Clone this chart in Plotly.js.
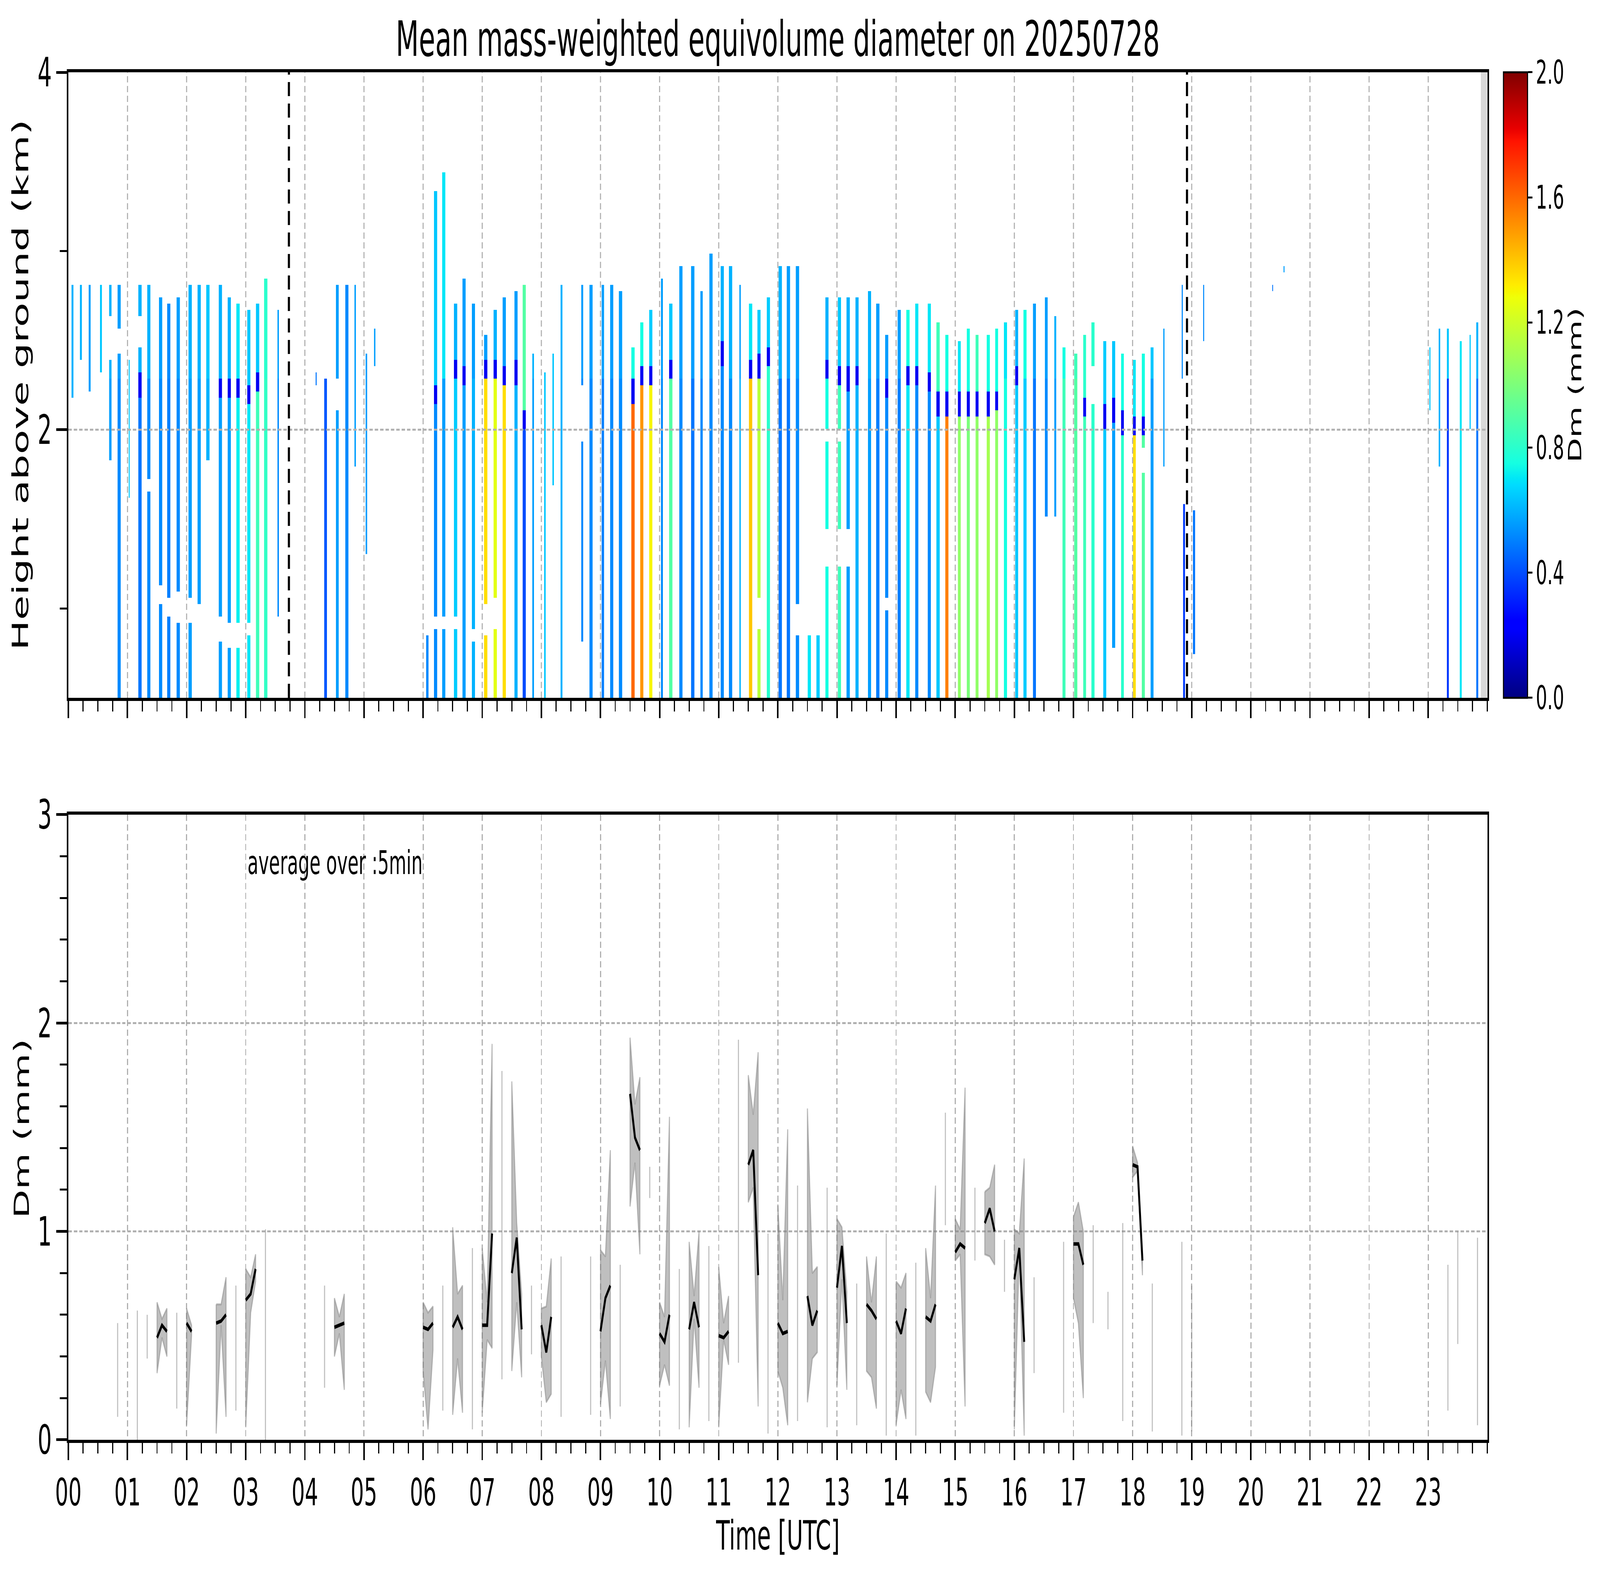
<!DOCTYPE html>
<html>
<head>
<meta charset="utf-8">
<script src="https://cdn.plot.ly/plotly-3.0.1.min.js"></script>
<style>
  html, body { margin: 0; padding: 0; background: #fff; overflow: hidden; }
  #chart { width: 7442px; height: 4031px; transform-origin: 0 0; }
</style>
</head>
<body>
<div id="chart"></div>
<script>
// Upper panel: one entry per radar profile (vertical stripe)
const stripeHour = [
  0.07, 0.21, 0.36, 0.55, 0.71, 0.86, 1.03, 1.21, 1.36, 1.56,
  1.70, 1.86, 2.06, 2.21, 2.36, 2.57, 2.72, 2.87, 3.05, 3.20,
  3.34, 3.55, 4.19, 4.35, 4.55, 4.71, 4.85, 5.04, 5.18, 6.07,
  6.21, 6.35, 6.55, 6.69, 6.85, 7.06, 7.22, 7.37, 7.57, 7.71,
  7.86, 8.06, 8.20, 8.34, 8.69, 8.84, 9.04, 9.19, 9.34, 9.55,
  9.70, 9.85, 10.04, 10.19, 10.36, 10.56, 10.71, 10.87, 11.06, 11.20,
  11.36, 11.54, 11.68, 11.84, 12.04, 12.18, 12.33, 12.53, 12.68, 12.83,
  13.04, 13.19, 13.34, 13.55, 13.69, 13.84, 14.05, 14.20, 14.35, 14.56,
  14.71, 14.86, 15.07, 15.22, 15.37, 15.56, 15.70, 15.85, 16.04, 16.18,
  16.34, 16.54, 16.69, 16.84, 17.04, 17.19, 17.33, 17.53, 17.68, 17.83,
  18.03, 18.18, 18.33, 18.53, 18.84, 18.87, 19.04, 19.20, 20.37, 20.56,
  23.03, 23.19, 23.33, 23.55, 23.71, 23.83
];
// profile duration in minutes
const stripeMinutes = [
  2.0, 2.0, 2.0, 2.0, 2.5, 3.3, 1.2, 3.3, 3.3, 3.3,
  3.3, 3.3, 3.3, 3.3, 3.3, 3.3, 3.3, 3.3, 3.3, 3.3,
  3.3, 1.5, 1.2, 3.0, 2.8, 3.3, 1.5, 1.5, 1.2, 2.5,
  3.3, 3.3, 3.3, 3.3, 3.3, 3.3, 3.3, 3.3, 3.3, 3.3,
  1.8, 1.5, 1.5, 1.8, 2.0, 3.3, 2.5, 3.3, 3.3, 3.3,
  3.3, 3.3, 2.0, 3.3, 3.3, 3.3, 2.5, 3.3, 3.3, 3.3,
  1.5, 3.3, 3.3, 3.3, 3.3, 3.3, 3.3, 3.3, 3.3, 3.3,
  3.3, 3.3, 3.3, 3.3, 3.3, 3.3, 3.3, 3.3, 3.3, 3.3,
  3.3, 3.3, 3.0, 3.0, 3.0, 3.0, 3.0, 3.0, 3.0, 3.0,
  3.0, 2.8, 2.0, 3.0, 3.0, 3.0, 3.0, 3.0, 3.0, 3.0,
  3.0, 3.0, 3.0, 1.2, 1.0, 2.0, 2.2, 1.2, 1.0, 1.0,
  1.0, 1.5, 2.0, 1.8, 1.2, 1.8
];
// echo top and lowest height (km)
const stripeTop = [
  2.82, 2.82, 2.82, 2.82, 2.82, 2.82, 2.39, 2.82, 2.82, 2.75,
  2.72, 2.75, 2.82, 2.82, 2.82, 2.82, 2.75, 2.72, 2.68, 2.72,
  2.86, 2.68, 2.32, 2.30, 2.82, 2.82, 2.82, 2.43, 2.58, 0.84,
  3.33, 3.44, 2.72, 2.86, 2.72, 2.54, 2.68, 2.75, 2.79, 2.82,
  2.43, 2.32, 2.43, 2.82, 2.82, 2.82, 2.82, 2.82, 2.79, 2.47,
  2.61, 2.68, 2.86, 2.72, 2.93, 2.93, 2.79, 2.97, 2.93, 2.90,
  2.82, 2.72, 2.68, 2.75, 2.90, 2.90, 2.90, 0.84, 0.84, 2.75,
  2.75, 2.75, 2.75, 2.79, 2.72, 2.54, 2.68, 2.68, 2.72, 2.72,
  2.61, 2.54, 2.50, 2.57, 2.54, 2.54, 2.57, 2.61, 2.68, 2.68,
  2.72, 2.75, 2.64, 2.47, 2.43, 2.54, 2.61, 2.50, 2.50, 2.43,
  2.39, 2.43, 2.47, 2.57, 2.82, 1.57, 1.56, 2.82, 2.82, 2.93,
  2.47, 2.58, 2.58, 2.50, 2.54, 2.60
];
const stripeBase = [
  2.18, 2.39, 2.20, 2.32, 1.83, 0.50, 1.61, 0.50, 0.50, 0.50,
  0.50, 0.50, 0.50, 1.03, 1.83, 0.50, 0.50, 0.50, 0.50, 0.50,
  0.50, 0.96, 2.24, 0.50, 0.50, 0.50, 1.78, 1.32, 2.35, 0.50,
  0.50, 0.50, 0.50, 0.50, 0.50, 0.50, 0.50, 0.50, 0.50, 0.50,
  0.50, 0.50, 1.68, 0.50, 0.80, 0.50, 0.50, 0.50, 0.50, 0.50,
  0.50, 0.50, 0.50, 0.50, 0.50, 0.50, 0.50, 0.50, 0.50, 0.50,
  0.50, 0.50, 0.50, 0.50, 0.50, 0.50, 0.50, 0.50, 0.50, 0.50,
  0.50, 0.50, 0.50, 0.50, 0.50, 0.50, 0.50, 0.50, 0.50, 0.50,
  0.50, 0.50, 0.50, 0.50, 0.50, 0.50, 0.50, 0.50, 0.50, 0.50,
  0.50, 1.53, 1.53, 0.50, 0.50, 0.50, 0.50, 0.50, 0.78, 0.50,
  0.50, 0.50, 0.50, 1.78, 2.29, 0.50, 0.74, 2.50, 2.76, 2.87,
  2.10, 1.78, 0.50, 0.50, 2.00, 0.50
];
// height of the dark melting-layer band (km), null where it is not seen
const stripeBand = [
  null, null, null, null, null, null, null, 2.25, null, null,
  null, null, null, null, null, 2.24, 2.24, 2.24, 2.20, 2.27,
  null, null, null, null, null, null, null, null, null, null,
  2.20, null, 2.33, 2.30, null, 2.33, 2.34, 2.30, 2.32, 2.05,
  null, null, null, null, null, null, null, null, null, 2.22,
  2.30, 2.30, null, 2.33, null, null, null, null, 2.42, null,
  null, 2.33, 2.35, 2.40, null, null, null, null, null, 2.33,
  2.30, 2.28, 2.30, null, null, 2.24, null, 2.30, 2.30, 2.26,
  2.14, 2.15, 2.15, 2.15, 2.15, 2.15, 2.17, null, 2.31, null,
  null, null, null, null, null, 2.12, null, 2.08, 2.11, 2.04,
  2.03, 2.02, null, null, null, null, null, null, null, null,
  null, null, null, null, null, null
];
// Dm above the band (snow) and below it (rain), mm
const stripeIceDm = [
  0.60, 0.60, 0.56, 0.64, 0.60, 0.56, 0.64, 0.60, 0.60, 0.56,
  0.52, 0.56, 0.60, 0.60, 0.64, 0.60, 0.60, 0.70, 0.64, 0.64,
  0.80, 0.56, 0.48, 0.56, 0.56, 0.52, 0.56, 0.56, 0.56, 0.52,
  0.64, 0.70, 0.60, 0.56, 0.56, 0.56, 0.60, 0.56, 0.56, 0.90,
  0.60, 0.64, 0.64, 0.60, 0.56, 0.56, 0.56, 0.56, 0.56, 0.75,
  0.75, 0.65, 0.56, 0.64, 0.56, 0.56, 0.56, 0.56, 0.60, 0.60,
  0.56, 0.70, 0.65, 0.65, 0.60, 0.56, 0.56, 0.70, 0.65, 0.60,
  0.64, 0.60, 0.60, 0.60, 0.56, 0.56, 0.56, 0.75, 0.70, 0.70,
  0.85, 0.75, 0.70, 0.75, 0.85, 0.75, 0.75, 0.70, 0.60, 0.75,
  0.56, 0.56, 0.60, 0.75, 0.85, 0.80, 0.80, 0.65, 0.64, 0.75,
  0.70, 0.75, 0.64, 0.56, 0.52, 0.42, 0.52, 0.52, 0.48, 0.56,
  0.64, 0.60, 0.64, 0.70, 0.64, 0.60
];
const stripeRainDm = [
  0.60, 0.60, 0.56, 0.64, 0.56, 0.52, 0.64, 0.48, 0.52, 0.52,
  0.50, 0.52, 0.56, 0.56, 0.60, 0.56, 0.56, 0.72, 0.70, 0.85,
  0.82, 0.52, 0.48, 0.42, 0.56, 0.52, 0.56, 0.56, 0.56, 0.52,
  0.52, 0.56, 0.65, 0.56, 0.60, 1.35, 1.25, 1.35, 0.60, 0.40,
  0.56, 0.64, 0.64, 0.60, 0.52, 0.52, 0.50, 0.52, 0.52, 1.60,
  1.50, 1.30, 0.52, 0.90, 0.52, 0.48, 0.52, 0.52, 0.52, 0.52,
  0.60, 1.40, 1.15, 0.80, 0.48, 0.48, 0.52, 0.70, 0.65, 0.75,
  0.85, 0.56, 0.60, 0.56, 0.50, 0.52, 0.50, 0.70, 0.52, 0.52,
  0.64, 1.55, 1.05, 1.00, 1.05, 1.10, 1.05, 0.75, 0.64, 0.65,
  0.48, 0.52, 0.56, 0.85, 0.90, 0.85, 0.80, 0.64, 0.56, 0.80,
  1.35, 0.90, 0.56, 0.56, 0.52, 0.36, 0.48, 0.52, 0.48, 0.56,
  0.64, 0.60, 0.36, 0.70, 0.64, 0.48
];
// height ranges [upper, lower] km with no data inside a profile
const stripeGaps = [
  [], [], [], [], [[2.64, 2.39]], [[2.58, 2.43]], [], [[2.64, 2.46]], [[1.74, 1.64]], [[1.13, 1.03]],
  [[1.06, 0.96]], [[1.10, 0.92]], [[1.06, 0.92]], [], [], [[0.96, 0.81]], [[0.92, 0.78]], [[0.92, 0.78]], [[0.92, 0.84]], [],
  [], [], [], [], [[2.29, 2.11]], [], [], [], [], [],
  [[0.96, 0.88]], [[0.96, 0.88]], [[0.96, 0.88]], [], [[0.88, 0.81]], [[1.03, 0.84]], [[1.06, 0.88]], [], [], [],
  [], [], [], [], [[2.25, 1.93]], [], [], [], [], [],
  [], [], [], [], [], [], [], [], [], [],
  [], [], [[1.06, 0.88]], [], [], [], [[1.03, 0.84]], [], [], [[2.00, 1.93], [1.43, 1.24]],
  [[2.00, 1.93], [1.43, 1.24]], [[1.43, 1.24]], [], [], [], [[1.06, 0.99]], [], [], [], [],
  [], [], [], [], [], [], [], [], [], [],
  [], [], [], [], [], [], [[2.36, 2.16]], [], [], [],
  [], [[1.89, 1.75]], [], [], [], [], [], [], [], [],
  [], [], [], [], [], []
];
const bandDm = 0.2;
const bandHalfDepth = 0.06;
const meltLevel = 2.3;
const gateDepth = 0.035;
const heightRange = [0.5, 4];

// Lower panel: 5-min averages of Dm (mm)
const avgTime = [
  '00:50', '01:10', '01:20', '01:30', '01:35', '01:40', '01:50', '02:00', '02:05', '02:30',
  '02:35', '02:40', '02:50', '03:00', '03:05', '03:10', '03:20', '04:20', '04:30', '04:35',
  '04:40', '06:00', '06:05', '06:10', '06:20', '06:30', '06:35', '06:40', '06:50', '07:00',
  '07:05', '07:10', '07:20', '07:30', '07:35', '07:40', '07:50', '08:00', '08:05', '08:10',
  '08:20', '08:50', '09:00', '09:05', '09:10', '09:20', '09:30', '09:35', '09:40', '09:50',
  '10:00', '10:05', '10:10', '10:20', '10:30', '10:35', '10:40', '10:50', '11:00', '11:05',
  '11:10', '11:20', '11:30', '11:35', '11:40', '11:50', '12:00', '12:05', '12:10', '12:20',
  '12:30', '12:35', '12:40', '12:50', '13:00', '13:05', '13:10', '13:20', '13:30', '13:35',
  '13:40', '13:50', '14:00', '14:05', '14:10', '14:20', '14:30', '14:35', '14:40', '14:50',
  '15:00', '15:05', '15:10', '15:20', '15:30', '15:35', '15:40', '15:50', '16:00', '16:05',
  '16:10', '16:20', '16:50', '17:00', '17:05', '17:10', '17:20', '17:35', '17:50', '18:00',
  '18:05', '18:10', '18:20', '18:50', '19:00', '23:20', '23:30', '23:50'
];
const avgDm = [
  0.34, 0.31, 0.49, 0.49, 0.55, 0.52, 0.38, 0.56, 0.52, 0.56,
  0.57, 0.60, 0.44, 0.67, 0.70, 0.82, 0.50, 0.49, 0.54, 0.55,
  0.56, 0.54, 0.53, 0.56, 0.44, 0.54, 0.59, 0.53, 0.49, 0.55,
  0.55, 0.99, 1.03, 0.80, 0.97, 0.53, 0.57, 0.55, 0.42, 0.59,
  0.50, 0.50, 0.52, 0.68, 0.74, 0.50, 1.66, 1.45, 1.39, 1.24,
  0.51, 0.47, 0.60, 0.43, 0.53, 0.66, 0.54, 0.51, 0.50, 0.49,
  0.52, 1.15, 1.32, 1.39, 0.79, 0.51, 0.56, 0.51, 0.52, 0.66,
  0.69, 0.55, 0.62, 0.63, 0.73, 0.93, 0.56, 0.41, 0.65, 0.62,
  0.58, 0.51, 0.57, 0.51, 0.63, 0.43, 0.59, 0.57, 0.65, 1.30,
  0.90, 0.94, 0.92, 1.04, 1.04, 1.11, 1.00, 0.84, 0.77, 0.92,
  0.47, 0.55, 0.54, 0.94, 0.94, 0.84, 0.79, 0.62, 0.56, 1.32,
  1.31, 0.86, 0.40, 0.49, 0.39, 0.49, 0.73, 0.52
];
const minDm = [
  0.11, 0.00, 0.39, 0.32, 0.49, 0.40, 0.15, 0.07, 0.50, 0.03,
  0.55, 0.11, 0.14, 0.06, 0.61, 0.76, 0.00, 0.25, 0.40, 0.51,
  0.24, 0.33, 0.05, 0.43, 0.14, 0.12, 0.39, 0.13, 0.05, 0.13,
  0.48, 0.44, 0.29, 0.33, 0.66, 0.30, 0.41, 0.40, 0.18, 0.22,
  0.11, 0.12, 0.17, 0.38, 0.10, 0.16, 1.12, 1.33, 0.89, 1.16,
  0.26, 0.36, 0.26, 0.05, 0.06, 0.58, 0.25, 0.09, 0.06, 0.48,
  0.36, 0.37, 1.14, 1.21, 0.16, 0.03, 0.33, 0.25, 0.07, 0.09,
  0.18, 0.39, 0.42, 0.06, 0.26, 0.77, 0.24, 0.07, 0.33, 0.30,
  0.15, 0.02, 0.07, 0.24, 0.10, 0.02, 0.23, 0.18, 0.35, 1.03,
  0.86, 0.89, 0.16, 0.86, 0.89, 0.88, 0.84, 0.71, 0.05, 0.90,
  0.02, 0.32, 0.13, 0.68, 0.56, 0.20, 0.56, 0.53, 0.09, 1.26,
  1.29, 0.79, 0.04, 0.02, 0.04, 0.14, 0.46, 0.07
];
const maxDm = [
  0.56, 0.62, 0.60, 0.66, 0.58, 0.63, 0.61, 0.63, 0.55, 0.65,
  0.65, 0.78, 0.74, 0.82, 0.78, 0.89, 1.01, 0.74, 0.68, 0.59,
  0.70, 0.66, 0.61, 0.64, 0.74, 1.02, 0.70, 0.74, 0.92, 0.92,
  0.66, 1.90, 1.77, 1.72, 1.04, 0.70, 0.74, 0.63, 0.64, 0.87,
  0.88, 0.88, 0.91, 0.88, 1.39, 0.84, 1.93, 1.61, 1.74, 1.31,
  0.66, 0.59, 1.55, 0.82, 0.95, 0.69, 1.00, 0.93, 0.83, 0.56,
  0.69, 1.92, 1.75, 1.56, 1.86, 0.99, 1.13, 0.67, 1.49, 1.22,
  1.59, 0.80, 0.83, 1.21, 1.06, 1.02, 0.71, 0.75, 0.88, 0.66,
  0.88, 0.99, 0.76, 0.73, 0.80, 0.85, 0.92, 0.68, 1.22, 1.57,
  1.06, 1.01, 1.69, 1.21, 1.19, 1.21, 1.32, 0.96, 1.01, 0.99,
  1.35, 0.78, 0.95, 1.07, 1.14, 1.00, 1.03, 0.71, 1.04, 1.41,
  1.33, 0.87, 0.75, 0.95, 0.74, 0.84, 1.00, 0.97
];

// Marked times (dashed black lines) and the no-data strip at the end of the day
const sunLines = [3.73, 18.92];
const noDataStart = 23.89;
const noDataEnd = 24;

const hourTicks = [0, 1, 2, 3, 4, 5, 6, 7, 8, 9, 10, 11, 12, 13, 14, 15, 16, 17, 18, 19, 20, 21, 22, 23];
const hourLabels = ['00', '01', '02', '03', '04', '05', '06', '07', '08', '09', '10', '11',
  '12', '13', '14', '15', '16', '17', '18', '19', '20', '21', '22', '23'];
const cbTicks = [0, 0.4, 0.8, 1.2, 1.6, 2.0];
const cbLabels = ['0.0', '0.4', '0.8', '1.2', '1.6', '2.0'];

// matplotlib "jet"
const jet = [
  [0, 'rgb(0,0,128)'], [0.11, 'rgb(0,0,255)'], [0.125, 'rgb(0,0,255)'],
  [0.34, 'rgb(0,219,255)'], [0.35, 'rgb(0,230,247)'], [0.375, 'rgb(21,255,226)'],
  [0.64, 'rgb(239,255,8)'], [0.65, 'rgb(247,246,0)'], [0.66, 'rgb(255,236,0)'],
  [0.89, 'rgb(255,19,0)'], [0.91, 'rgb(232,0,0)'], [1, 'rgb(128,0,0)']
];

// figure is laid out at its design size, then fitted to the window
const FIG_W = 7442, FIG_H = 4031;

function profileValue(i, h) {
    if (h > stripeTop[i] || h < stripeBase[i]) return null;
    for (const g of stripeGaps[i]) {
        if (h <= g[0] && h >= g[1]) return null;
    }
    const band = stripeBand[i];
    if (band !== null && Math.abs(h - band) <= bandHalfDepth) return bandDm;
    const split = band !== null ? band : meltLevel;
    return h > split ? stripeIceDm[i] : stripeRainDm[i];
}

function buildHeatmap() {
    const rowEdges = [];
    const nRows = Math.round((heightRange[1] - heightRange[0]) / gateDepth);
    for (let k = 0; k <= nRows; k++) rowEdges.push(heightRange[0] + k * gateDepth);

    const colEdges = [];
    const cols = []; // stripe index, or -1 for the empty space between profiles
    stripeHour.forEach((h, i) => {
        const half = stripeMinutes[i] / 120;
        if (i > 0) cols.push(-1);
        colEdges.push(h - half, h + half);
        cols.push(i);
    });

    const z = [];
    for (let r = 0; r < nRows; r++) {
        const mid = (rowEdges[r] + rowEdges[r + 1]) / 2;
        z.push(cols.map(c => (c < 0 ? null : profileValue(c, mid))));
    }
    return { x: colEdges, y: rowEdges, z: z };
}

function toHours(t) {
    const p = t.split(':');
    return +p[0] + (+p[1]) / 60;
}

function fitToWindow() {
    const vw = document.documentElement.clientWidth || window.innerWidth;
    const vh = document.documentElement.clientHeight || window.innerHeight;
    document.getElementById('chart').style.transform =
        'scale(' + (vw / FIG_W) + ',' + (vh / FIG_H) + ')';
}

function updatePlot() {
    const hm = buildHeatmap();
    const heat = {
        type: 'heatmap', x: hm.x, y: hm.y, z: hm.z,
        xaxis: 'x', yaxis: 'y',
        zmin: 0, zmax: 2, colorscale: jet, zsmooth: false,
        hoverinfo: 'skip',
        colorbar: {
            x: 6993 / FIG_W, xanchor: 'left', xpad: 0, ypad: 0,
            y: 0.75552, yanchor: 'middle', len: 0.397171, lenmode: 'fraction',
            thickness: 112, thicknessmode: 'pixels',
            outlinewidth: 5, outlinecolor: 'black',
            tickmode: 'array', tickvals: cbTicks, ticktext: cbLabels,
            ticks: 'outside', ticklen: 20, tickwidth: 5, tickcolor: 'black',
            tickfont: { size: 83, color: 'black' },
            title: { text: 'Dm (mm)', side: 'right', font: { size: 83, color: 'black' } }
        }
    };

    // group the 5-min averages into runs of consecutive samples
    const hours = avgTime.map(toHours);
    const runs = [];
    hours.forEach((h, i) => {
        if (i === 0 || h - hours[i - 1] > 6 / 60) runs.push([i]);
        else runs[runs.length - 1].push(i);
    });

    const bands = runs.map(run => {
        const xs = run.map(i => hours[i]);
        const up = run.map(i => maxDm[i]);
        const lo = run.map(i => minDm[i]);
        return {
            type: 'scatter', mode: 'lines', xaxis: 'x2', yaxis: 'y2',
            x: xs.concat(xs.slice().reverse(), [xs[0]]),
            y: up.concat(lo.slice().reverse(), [up[0]]),
            fill: 'toself', fillcolor: 'rgba(128,128,128,0.5)',
            line: { color: 'rgba(128,128,128,0.5)', width: 5 },
            hoverinfo: 'skip', showlegend: false
        };
    });

    const meanX = [], meanY = [];
    runs.forEach((run, k) => {
        if (k > 0) { meanX.push(null); meanY.push(null); }
        run.forEach(i => { meanX.push(hours[i]); meanY.push(avgDm[i]); });
    });
    const meanLine = {
        type: 'scatter', mode: 'lines', xaxis: 'x2', yaxis: 'y2',
        x: meanX, y: meanY, connectgaps: false,
        line: { color: 'black', width: 9 },
        hoverinfo: 'skip', showlegend: false
    };

    const gridStyle = { color: '#b0b0b0', width: 5, dash: '16px,9px' };
    const shapes = [{
        type: 'rect', xref: 'x', yref: 'y', layer: 'below',
        x0: noDataStart, x1: noDataEnd, y0: heightRange[0], y1: heightRange[1],
        fillcolor: '#d9d9d9', line: { width: 0 }
    }];
    hourTicks.slice(1).forEach(h => shapes.push({
        type: 'line', xref: 'x', yref: 'y', layer: 'above',
        x0: h, x1: h, y0: heightRange[0], y1: heightRange[1], line: gridStyle
    }));
    shapes.push({
        type: 'line', xref: 'x', yref: 'y', layer: 'above',
        x0: 0, x1: 24, y0: 2, y1: 2, line: gridStyle
    });
    sunLines.forEach(h => shapes.push({
        type: 'line', xref: 'x', yref: 'y', layer: 'above',
        x0: h, x1: h, y0: heightRange[0], y1: heightRange[1],
        line: { color: 'black', width: 10, dash: '36px,19px' }
    }));

    const xBase = {
        range: [0, 24], domain: [318 / FIG_W, 6918 / FIG_W],
        tickmode: 'array', tickvals: hourTicks, ticktext: hourLabels,
        ticks: 'outside', ticklen: 44, tickwidth: 7, tickcolor: 'black',
        minor: { tickmode: 'linear', tick0: 0, dtick: 0.25, ticks: 'outside',
                 ticklen: 27, tickwidth: 5, tickcolor: 'black', showgrid: false },
        showline: true, linewidth: 8, linecolor: 'black', mirror: true,
        zeroline: false, fixedrange: true
    };

    const layout = {
        width: FIG_W, height: FIG_H,
        margin: { l: 0, r: 0, t: 0, b: 0, pad: 0 },
        paper_bgcolor: 'white', plot_bgcolor: 'white',
        font: { family: 'DejaVu Sans', color: 'black' },
        showlegend: false,
        title: {
            text: 'Mean mass-weighted equivolume diameter on 20250728',
            font: { size: 124, color: 'black' },
            x: 3618 / FIG_W, xanchor: 'center', y: 1 - 100 / FIG_H, yanchor: 'middle'
        },
        xaxis: Object.assign({}, xBase, { anchor: 'y', showticklabels: false, showgrid: false }),
        yaxis: {
            domain: [0.556934, 0.954105], range: heightRange, anchor: 'x',
            tickmode: 'array', tickvals: [2, 4], ticktext: ['2', '4'],
            ticks: 'outside', ticklen: 48, tickwidth: 7, tickcolor: 'black',
            tickfont: { size: 104 },
            minor: { tickmode: 'array', tickvals: [1, 3], ticks: 'outside',
                     ticklen: 32, tickwidth: 5, tickcolor: 'black', showgrid: false },
            showline: true, linewidth: 8, linecolor: 'black', mirror: true,
            showgrid: false, zeroline: false, fixedrange: true
        },
        xaxis2: Object.assign({}, xBase, {
            anchor: 'y2', showticklabels: true, tickfont: { size: 97 },
            showgrid: true, gridcolor: '#b0b0b0', gridwidth: 5, griddash: '16px,9px'
        }),
        yaxis2: {
            domain: [0.085835, 0.482759], range: [0, 3], anchor: 'x2',
            tickmode: 'array', tickvals: [0, 1, 2, 3], ticktext: ['0', '1', '2', '3'],
            ticks: 'outside', ticklen: 48, tickwidth: 7, tickcolor: 'black',
            tickfont: { size: 104 },
            minor: { tickmode: 'linear', tick0: 0, dtick: 0.2, ticks: 'outside',
                     ticklen: 32, tickwidth: 5, tickcolor: 'black', showgrid: false },
            showline: true, linewidth: 8, linecolor: 'black', mirror: true,
            showgrid: true, gridcolor: '#b0b0b0', gridwidth: 5, griddash: '16px,9px',
            zeroline: false, fixedrange: true
        },
        shapes: shapes,
        annotations: [
            { text: 'Height above ground (km)', xref: 'paper', yref: 'paper',
              x: 95 / FIG_W, y: 0.7555, xanchor: 'center', yanchor: 'middle',
              textangle: -90, showarrow: false, font: { size: 103 } },
            { text: 'Dm (mm)', xref: 'paper', yref: 'paper',
              x: 102 / FIG_W, y: 0.2835, xanchor: 'center', yanchor: 'middle',
              textangle: -90, showarrow: false, font: { size: 96 } },
            { text: 'Time [UTC]', xref: 'paper', yref: 'paper',
              x: 3618 / FIG_W, y: 1 - 3930 / FIG_H, xanchor: 'center', yanchor: 'middle',
              showarrow: false, font: { size: 104 } },
            { text: 'average over :5min', xref: 'paper', yref: 'paper',
              x: 1149 / FIG_W, y: 1 - 2208 / FIG_H, xanchor: 'left', yanchor: 'middle',
              showarrow: false, font: { size: 83 } }
        ]
    };

    Plotly.newPlot('chart', [heat].concat(bands, [meanLine]), layout, { staticPlot: true })
        .then(fitToWindow);
}

document.addEventListener('DOMContentLoaded', updatePlot);
</script>
</body>
</html>
